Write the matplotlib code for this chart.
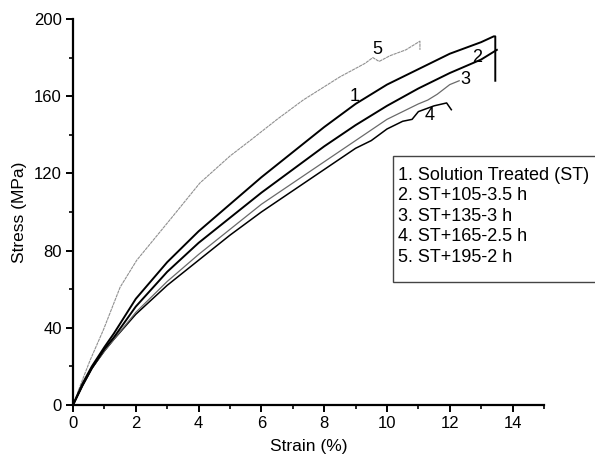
import matplotlib.pyplot as plt
from matplotlib.patches import Rectangle
from matplotlib.ticker import MultipleLocator

plt.rcParams['font.family'] = ['Liberation Sans', 'DejaVu Sans']

# curve 1: Solution Treated
strain1 = [0, 0.3, 0.6, 1.0, 1.3, 2.0, 3.0, 4.0, 5.0, 6.0, 7.0, 8.0, 9.0, 10.0, 11.0, 12.0, 13.0, 13.4, 13.45, 13.45]
stress1 = [0, 11, 20, 30, 37, 55, 74, 90, 104, 118, 131, 144, 156, 166, 174, 182, 188, 191, 191, 168]
# curve 2: ST+105-3.5 h
strain2 = [0, 0.3, 0.6, 1.0, 1.3, 2.0, 3.0, 4.0, 5.0, 6.0, 7.0, 8.0, 9.0, 10.0, 11.0, 12.0, 13.0, 13.5]
stress2 = [0, 10, 19, 29, 35, 51, 69, 84, 97, 110, 122, 134, 145, 155, 164, 172, 179, 184]
# curve 3: ST+135-3 h
strain3 = [0, 0.3, 0.6, 1.0, 1.3, 2.0, 3.0, 4.0, 5.0, 6.0, 7.0, 8.0, 9.0, 10.0, 10.5, 11.0, 11.3, 11.6, 12.0, 12.3]
stress3 = [0, 10, 19, 28, 34, 48, 64, 78, 91, 104, 115, 126, 137, 148, 152, 156, 158, 161, 166, 168]
# curve 4: ST+165-2.5 h
strain4 = [0, 0.3, 0.6, 1.0, 1.3, 2.0, 3.0, 4.0, 5.0, 6.0, 7.0, 8.0, 9.0, 9.5, 10.0, 10.5, 10.8, 11.0, 11.5, 11.9, 12.05]
stress4 = [0, 10, 19, 28, 34, 47, 62, 75, 88, 100, 111, 122, 133, 137, 143, 147, 148, 152, 155, 156.5, 153]
# curve 5: ST+195-2 h
strain5 = [0, 0.3, 0.54, 0.97, 1.5, 2.03, 3.09, 4.04, 5.0, 5.64, 6.5, 7.33, 8.5, 9.3, 9.55, 9.75, 10.1, 10.6, 11.05, 11.05]
stress5 = [0, 13, 23, 39, 61, 75, 96, 115, 129, 137, 148, 158, 170, 177, 180, 178, 181, 184, 188.5, 184]

legend_lines = ['1. Solution Treated (ST)', '2. ST+105-3.5 h', '3. ST+135-3 h',
                '4. ST+165-2.5 h', '5. ST+195-2 h']

fig = plt.figure(figsize=(5.95, 4.61), dpi=100)
ax = fig.add_axes([0.1227, 0.1215, 0.7915, 0.8373])

ax.plot(strain5, stress5, color='#909090', lw=0.8, ls=(0, (3, 0.6)))
ax.plot(strain4, stress4, color='black', lw=1.1)
ax.plot(strain3, stress3, color='#6a6a6a', lw=0.9)
ax.plot(strain2, stress2, color='black', lw=1.4)
ax.plot(strain1, stress1, color='black', lw=1.4)

for lab, x, y in [('1', 8.98, 160), ('2', 12.87, 180), ('3', 12.5, 168.5),
                  ('4', 11.37, 150), ('5', 9.68, 184)]:
    ax.text(x, y, lab, fontsize=13, ha='center', va='center')

ax.set_xlim(0, 15)
ax.set_ylim(0, 200)
ax.xaxis.set_major_locator(MultipleLocator(2))
ax.xaxis.set_minor_locator(MultipleLocator(1))
ax.yaxis.set_major_locator(MultipleLocator(40))
ax.yaxis.set_minor_locator(MultipleLocator(20))
for s in ['top', 'right']:
    ax.spines[s].set_visible(False)
for s in ['left', 'bottom']:
    ax.spines[s].set_linewidth(1.6)
ax.tick_params(which='major', direction='out', length=5, width=1.4, labelsize=12, pad=3)
ax.tick_params(which='minor', direction='out', length=3, width=1.2)

ax.set_xlabel('Strain (%)', fontsize=12.5, labelpad=6)
ax.set_ylabel('Stress (MPa)', fontsize=12.5, labelpad=5)

# legend box, running off the right edge as in the original
fig.patches.append(Rectangle((393 / 595, 1 - 282 / 461), 0.4, 126 / 461,
                             transform=fig.transFigure, fc='white', ec='#444444', lw=1.0))
for i, line in enumerate(legend_lines):
    fig.text(398 / 595, 1 - (175 + 20.5 * i) / 461, line, fontsize=13, va='center', ha='left')

fig.savefig('out.png', dpi=100)
